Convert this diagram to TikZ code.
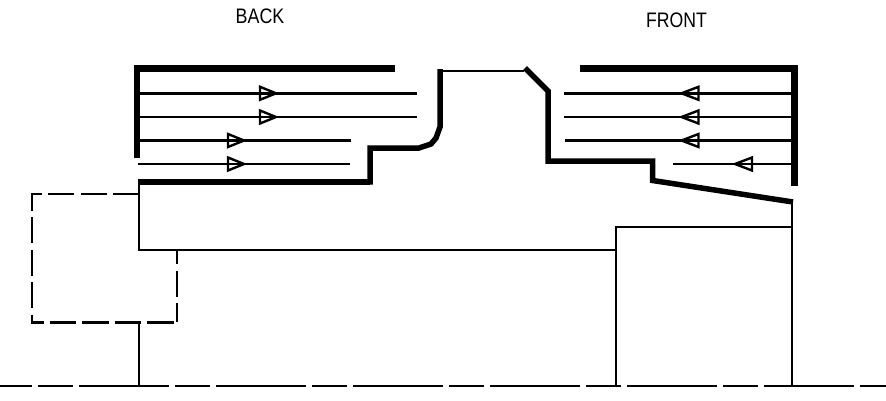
\documentclass[tikz,border=0pt]{standalone}
\usepackage{fontspec}
\setmainfont{Liberation Sans}
\tikzset{
  thin line/.style={line width=2pt,line cap=butt,line join=miter},
  mid line/.style={line width=3pt,line cap=butt},
  heavy/.style={line width=6.5pt,line cap=butt,line join=miter},
  wall/.style={line width=5.5pt,line cap=butt,line join=miter},
  centerline/.style={line width=2pt,dash pattern=on 90pt off 6pt on 35pt off 6pt,dash phase=58pt},
  hidden/.style={line width=2pt,dash pattern=on 26pt off 6.5pt},
  flowtip/.style={line width=2.4pt,line join=miter},
  label/.style={inner sep=0pt,font=\fontsize{21}{22}\selectfont}
}
\newcommand{\tipR}[2]{\draw[flowtip] (#1,#2-6.5) -- (#1+16,#2) -- (#1,#2+6.5) -- cycle;}
\newcommand{\tipL}[2]{\draw[flowtip] (#1,#2-6.5) -- (#1-17,#2) -- (#1,#2+6.5) -- cycle;}
\begin{document}
\begin{tikzpicture}[x=1pt,y=-1pt]
\useasboundingbox[fill=white] (0,0) rectangle (886,400);
% labels
\node[label,xscale=.85] (back) at (260,16) {BACK};
\node[label,xscale=.84] (front) at (676.5,20.5) {FRONT};
% centre line
\draw[centerline] (0,385.5) -- (886,385.5);
% body outlines
\draw[thin line] (139,182) -- (139,250) -- (616,250);
\draw[thin line] (139,322) -- (139,385.5);
\draw[thin line] (616,385.5) -- (616,227) -- (792,227);
\draw[thin line] (792,202) -- (792,385.5);
% hidden box
\draw[hidden] (139,194) -- (32,194) -- (32,322);
\draw[line width=3pt,dash pattern=on 26.5pt off 6pt,dash phase=14pt] (31,322.5) -- (176,322.5);
\draw[hidden,dash phase=7pt] (177,322) -- (177,250);
% back walls
\draw[heavy] (137,158) -- (137,68.5) -- (395,68.5);
\draw[heavy] (138,182) -- (370,182);
\draw[wall] (370,184.5) -- (370,148) -- (419,148) -- (431,144) -- (436,138) -- (440,127) -- (440,69);
\draw[thin line] (439,70.5) -- (524,70.5);
% front walls
\draw[line width=6.5pt] (580,68.5) -- (794.3,68.5);
\draw[line width=6.5pt] (794.3,65.2) -- (794.3,185.7);
\draw[wall] (525,68) -- (548,91) -- (548,161) -- (652.7,161) -- (652.7,180.5) -- (793,202);
% back flow lines
\draw[mid line] (140,93.3) -- (417,93.3);
\draw[thin line] (140,117) -- (417,117);
\draw[mid line] (140,140.5) -- (351,140.5);
\draw[thin line] (138,164) -- (350,164);
\tipR{260}{93.3}\tipR{260}{117}\tipR{228}{140.5}\tipR{228}{164}
% front flow lines
\draw[mid line] (564,93.3) -- (792,93.3);
\draw[thin line] (564,117) -- (792,117);
\draw[mid line] (565,140.5) -- (792,140.5);
\draw[thin line] (673,164) -- (792,164);
\tipL{698.5}{93.3}\tipL{698.5}{117}\tipL{698.5}{140.5}\tipL{752}{164}
\end{tikzpicture}
\end{document}
